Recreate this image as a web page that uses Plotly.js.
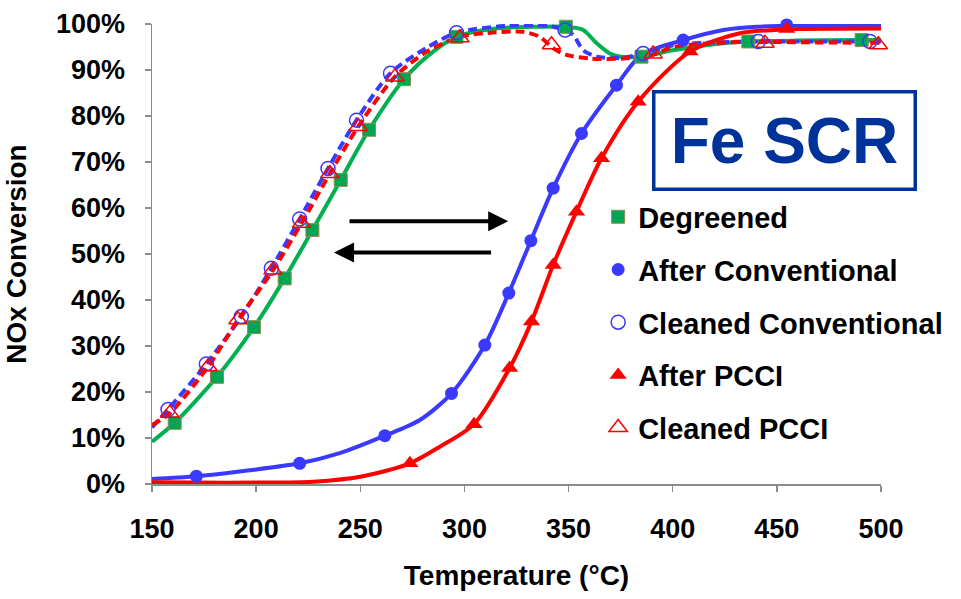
<!DOCTYPE html>
<html>
<head>
<meta charset="utf-8">
<script src="https://cdn.plot.ly/plotly-3.0.1.min.js"></script>
<style>html,body{margin:0;padding:0;background:#fff;}#chart{width:961px;height:599px;}</style>
</head>
<body>
<div id="chart"></div>
<script>
// ---- Data (Temperature °C, NOx conversion %) ----
const seriesNames = ["Degreened", "After Conventional", "Cleaned Conventional", "After PCCI", "Cleaned PCCI"];

// Curves (smoothed lines)
const degLineT = [150, 160.9, 181.2, 199, 213.7, 227, 240.6, 254.2, 271, 285, 296.2, 315, 335, 348.7, 357, 363.5, 369.8, 375, 385, 400, 424, 436.3, 460, 490.7, 500];
const degLineY = [9.2, 13.3, 23.3, 34.1, 44.7, 55.2, 66.1, 77.0, 88.0, 94.0, 97.2, 99.0, 99.4, 99.4, 98.7, 95.8, 93.6, 92.9, 92.9, 94.3, 95.8, 96.2, 96.4, 96.5, 96.5];

const acLineT = [150, 171.3, 197, 220.9, 240.1, 261.8, 278.6, 293.8, 309.8, 321.3, 331.9, 342.6, 356.2, 373, 385, 405, 424.3, 440.3, 454.7, 500];
const acLineY = [1.1, 1.7, 3.0, 4.5, 6.7, 10.5, 13.9, 19.7, 30.2, 41.5, 52.9, 64.3, 76.2, 86.7, 93.3, 96.5, 98.7, 99.4, 99.6, 99.6];

const ccLineT = [150, 157.7, 176.1, 192.9, 207.3, 220.9, 234.5, 248.2, 264.5, 281.8, 296.2, 320, 340, 348.3, 352.3, 357, 363.5, 374.6, 385.8, 400.3, 420, 441.1, 470, 494.7, 500];
const ccLineY = [12.3, 16.2, 26.1, 36.4, 46.9, 57.6, 68.6, 79.1, 89.3, 94.8, 98.1, 99.6, 99.6, 98.7, 97.6, 94.3, 92.9, 92.6, 93.6, 95.4, 96.0, 96.2, 96.2, 96.2, 96.2];

const apLineT = [150, 171.3, 200, 227.3, 251.3, 273.8, 288.2, 304.6, 321.7, 332.2, 342.6, 353.8, 365.8, 383.4, 408.3, 432.2, 454.7, 500];
const apLineY = [0.4, 0.3, 0.3, 0.5, 1.7, 4.5, 8.1, 13.0, 25.2, 35.3, 47.6, 59.2, 70.8, 83.1, 94.0, 98.0, 98.8, 99.0];

const cpLineT = [150, 158.5, 176.9, 191.3, 208.1, 221.8, 235.4, 249, 266.6, 282, 297.8, 315, 328.2, 336.2, 342.7, 349, 360.3, 376.3, 390.6, 400.3, 432.2, 444.3, 470, 500];
const cpLineY = [12.8, 15.4, 25.5, 35.7, 46.5, 56.7, 67.5, 77.7, 88.5, 94.0, 97.2, 98.2, 98.3, 97.2, 94.7, 93.3, 92.5, 92.5, 93.3, 95.0, 96.1, 96.1, 96.0, 95.9];

// Marker points
const degPtT = [160.9, 181.2, 199, 213.7, 227, 240.6, 254.2, 271, 296.2, 348.7, 385, 436.3, 490.7];
const degPtY = [13.3, 23.3, 34.1, 44.7, 55.2, 66.1, 77.0, 88.0, 97.2, 99.4, 92.9, 96.2, 96.5];

const acPtT = [171.3, 220.9, 261.8, 293.8, 309.8, 321.3, 331.9, 342.6, 356.2, 373, 405, 454.7];
const acPtY = [1.7, 4.5, 10.5, 19.7, 30.2, 41.5, 52.9, 64.3, 76.2, 86.7, 96.5, 99.8];

const ccPtT = [157.7, 176.1, 192.9, 207.3, 220.9, 234.5, 248.2, 264.5, 296.2, 348.3, 385.8, 441.1, 494.7];
const ccPtY = [16.2, 26.1, 36.4, 46.9, 57.6, 68.6, 79.1, 89.3, 98.1, 98.7, 93.6, 96.2, 96.2];

const apPtT = [273.8, 304.6, 321.7, 332.2, 342.6, 353.8, 365.8, 383.4, 408.3, 454.7];
const apPtY = [4.5, 13.0, 25.2, 35.3, 47.6, 59.2, 70.8, 83.1, 94.0, 98.9];

const cpPtT = [158.5, 176.9, 191.3, 208.1, 221.8, 235.4, 249, 266.6, 297.8, 341.8, 390.6, 444.3, 498.7];
const cpPtY = [15.4, 25.5, 35.7, 46.5, 56.7, 67.5, 77.7, 88.5, 97.0, 95.5, 93.5, 95.8, 95.5];

const xTicks = [150, 200, 250, 300, 350, 400, 450, 500];
const yTicks = [0, 10, 20, 30, 40, 50, 60, 70, 80, 90, 100];

// ---- Styling ----
const GREEN = "#00B050", BLUE = "#3A3AFF", RED = "#FF0000";
const FONT = "Liberation Sans, Arial, sans-serif";

function lineTrace(x, y, color, dash, grp) {
  return {x: x, y: y, type: "scatter", mode: "lines", showlegend: false, legendgroup: grp,
    line: {color: color, width: 4, shape: "spline", smoothing: 0.8, dash: dash}, hoverinfo: "skip"};
}
function ptTrace(x, y, name, marker, grp) {
  return {x: x, y: y, type: "scatter", mode: "markers", name: name, legendgroup: grp, marker: marker, cliponaxis: false};
}

const data = [
  lineTrace(degLineT, degLineY, GREEN, "solid", "g1"),
  lineTrace(acLineT, acLineY, BLUE, "solid", "g2"),
  lineTrace(ccLineT, ccLineY, BLUE, "9px,5px", "g3"),
  lineTrace(apLineT, apLineY, RED, "solid", "g4"),
  lineTrace(cpLineT, cpLineY, RED, "9px,5px", "g5"),
  ptTrace(degPtT, degPtY, seriesNames[0], {symbol: "square", size: 13, color: "#00A651", line: {color: "#8F8F55", width: 1}}, "g1"),
  ptTrace(acPtT, acPtY, seriesNames[1], {symbol: "circle", size: 13, color: BLUE}, "g2"),
  ptTrace(ccPtT, ccPtY, seriesNames[2], {symbol: "circle-open", size: 14, color: BLUE, line: {width: 1.5}}, "g3"),
  ptTrace(apPtT, apPtY, seriesNames[3], {symbol: "triangle-up", size: 15, color: RED}, "g4"),
  ptTrace(cpPtT, cpPtY, seriesNames[4], {symbol: "triangle-up-open", size: 16, color: RED, line: {width: 1.5}}, "g5")
];

const layout = {
  width: 961, height: 599,
  margin: {l: 152, r: 80, t: 24, b: 115},
  paper_bgcolor: "#ffffff", plot_bgcolor: "#ffffff",
  font: {family: FONT, color: "#000000"},
  showlegend: true,
  legend: {x: 0.612, y: 0.636, xanchor: "left", yanchor: "top", bgcolor: "rgba(0,0,0,0)",
    font: {family: FONT, size: 29, color: "#000", weight: "bold"}, traceorder: "grouped", tracegroupgap: 12},
  xaxis: {range: [150, 500], tickvals: xTicks, ticktext: xTicks.map(String), showgrid: false, zeroline: false,
    showline: true, linecolor: "#8C8C8C", linewidth: 1.5, ticks: "outside", ticklen: 6, tickcolor: "#8C8C8C", tickwidth: 1.5,
    tickfont: {family: FONT, size: 27, color: "#000", weight: "bold"}, ticklabelstandoff: 14,
    title: {text: "Temperature (°C)", font: {family: FONT, size: 28, color: "#000", weight: "bold"}, standoff: 22}},
  yaxis: {range: [0, 100], tickvals: yTicks, ticktext: yTicks.map(v => v + "%"), showgrid: false, zeroline: false,
    showline: true, linecolor: "#8C8C8C", linewidth: 1.5, ticks: "outside", ticklen: 6, tickcolor: "#8C8C8C", tickwidth: 1.5,
    tickfont: {family: FONT, size: 27, color: "#000", weight: "bold"}, ticklabelstandoff: 14,
    title: {text: "NOx Conversion", font: {family: FONT, size: 28, color: "#000", weight: "bold"}, standoff: 21}},
  annotations: [
    {xref: "paper", yref: "paper", x: 0.868, y: 0.7457, xanchor: "center", yanchor: "middle",
      text: "<b>Fe SCR</b>", showarrow: false, font: {family: FONT, size: 64, color: "#003399"},
      bordercolor: "#003399", borderwidth: 3.5, borderpad: 3, bgcolor: "#ffffff", width: 252, height: 88},
    {xref: "x", yref: "y", axref: "x", ayref: "y", x: 321.0, y: 57.1, ax: 244.1, ay: 57.1, text: "",
      showarrow: true, arrowhead: 2, arrowsize: 1, arrowwidth: 4, arrowcolor: "#000"},
    {xref: "x", yref: "y", axref: "x", ayref: "y", x: 237.4, y: 50.3, ax: 313.5, ay: 50.3, text: "",
      showarrow: true, arrowhead: 2, arrowsize: 1, arrowwidth: 4, arrowcolor: "#000"}
  ]
};

Plotly.newPlot("chart", data, layout, {staticPlot: true, displayModeBar: false});
</script>
</body>
</html>
